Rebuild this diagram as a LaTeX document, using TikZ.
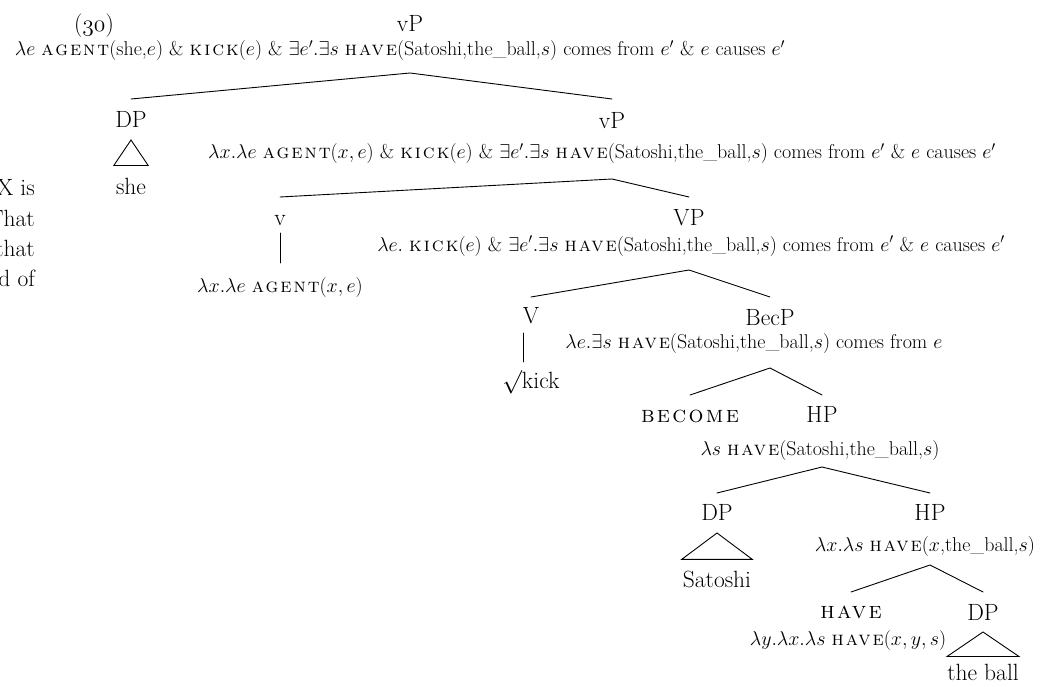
\RequirePackage{fix-cm}
\documentclass[tikz,border=0pt]{standalone}
\usepackage{fontspec}
\newfontfamily\scshp{lmromancaps10-regular.otf}[LetterSpace=10]
\usetikzlibrary{calc}
\begin{document}
\begin{tikzpicture}[x=1pt,y=-1pt,
  cat/.style={inner sep=0pt, anchor=base, font=\fontsize{23.5}{28}\selectfont},
  sem/.style={inner sep=0pt, anchor=base, font=\fontsize{20}{24}\selectfont},
  edge/.style={line width=0.9pt, line cap=round, line join=miter}]
\useasboundingbox (0,0) rectangle (1051,687);
% cut-off body text at the left
\node[cat,anchor=base east] (t1) at (35,196) {X is};
\node[cat,anchor=base east] (t2) at (35,226) {That};
\node[cat,anchor=base east] (t3) at (35,256) {that};
\node[cat,anchor=base east] (t4) at (35,286) {d of};
% tree
\node[cat] (ex) at (94,32) {(\ensuremath{\mathnormal{30}})};
\node[cat] (vp1) at (410,32) {vP};
\node[sem] (f1) at (400,56) {$\lambda e$ {\scshp agent}(she,$e$) \& {\scshp kick}($e$) \& $\exists e'.\exists s$ {\scshp have}(Satoshi,the\_ball,$s$) comes from $e'$ \& $e$ causes $e'$};
\node[cat] (dp1) at (131,128) {DP};
\node[cat] (she) at (131,194) {she};
\node[cat] (vp2) at (612,129) {vP};
\node[sem] (f2) at (602,159) {$\lambda x.\lambda e$ {\scshp agent}$(x, e)$ \& {\scshp kick}($e$) \& $\exists e'.\exists s$ {\scshp have}(Satoshi,the\_ball,$s$) comes from $e'$ \& $e$ causes $e'$};
\node[cat] (v) at (280,225) {v};
\node[sem] (fv) at (280,292) {$\lambda x.\lambda e$ {\scshp agent}$(x, e)$};
\node[cat] (VP) at (689,225) {VP};
\node[sem] (f3) at (691,251) {$\lambda e.$ {\scshp kick}($e$) \& $\exists e'.\exists s$ {\scshp have}(Satoshi,the\_ball,$s$) comes from $e'$ \& $e$ causes $e'$};
\node[cat] (V) at (531,323) {V};
\node[cat] (kick) at (531,388) {$\surd$kick};
\node[cat] (becp) at (770,325) {BecP};
\node[sem] (f4) at (754,348) {$\lambda e.\exists s$ {\scshp have}(Satoshi,the\_ball,$s$) comes from $e$};
\node[cat] (become) at (690,422) {\scshp become};
\node[cat] (hp1) at (822,422) {HP};
\node[sem] (fhp1) at (820,455) {$\lambda s$ {\scshp have}(Satoshi,the\_ball,$s$)};
\node[cat] (dp2) at (717,520) {DP};
\node[cat] (hp2) at (930,520) {HP};
\node[sem] (fhp2) at (925,551) {$\lambda x.\lambda s$ {\scshp have}($x$,the\_ball,$s$)};
\node[cat] (sat) at (717,587) {Satoshi};
\node[cat] (have) at (851,618) {\scshp have};
\node[cat] (dp3) at (983,620) {DP};
\node[sem] (fhave) at (848,645) {$\lambda y.\lambda x.\lambda s$ {\scshp have}$(x, y, s)$};
\node[cat] (ball) at (983,680) {the ball};
% branches
\draw[edge] ($(dp1.base)+(0,-29)$) -- ($(vp1 |- f1.base)+(0,17)$) -- ($(vp2.base)+(0,-30)$);
\draw[edge] ($(dp1.base)+(0,12)$) -- ($(she.north east)+(2,-12)$) -- ($(she.north west)+(-2,-12)$) -- cycle;
\draw[edge] ($(v.base)+(0,-28)$) -- ($(vp2 |- f2.base)+(0,20)$) -- ($(VP.base)+(0,-28)$);
\draw[edge] ($(v.base)+(0,8)$) -- ($(fv.base)+(0,-29)$);
\draw[edge] ($(V.base)+(0,-26)$) -- ($(VP |- f3.base)+(0,19)$) -- ($(becp.base)+(0,-28)$);
\draw[edge] ($(V.base)+(-8,10)$) -- ($(kick.base)+(-8,-26)$);
\draw[edge] ($(become.base)+(0,-27)$) -- ($(becp |- f4.base)+(0,20)$) -- ($(hp1.base)+(0,-27)$);
\draw[edge] ($(dp2.base)+(0,-27)$) -- ($(hp1 |- fhp1.base)+(0,12)$) -- ($(hp2.base)+(0,-27)$);
\draw[edge] ($(dp2.base)+(0,13)$) -- ($(sat.north east)+(1,-11)$) -- ($(sat.north west)+(-1,-11)$) -- cycle;
\draw[edge] ($(have.base)+(0,-26)$) -- ($(hp2 |- fhp2.base)+(0,14)$) -- ($(dp3.base)+(0,-28)$);
\draw[edge] ($(dp3.base)+(0,12)$) -- ($(ball.north east)+(0,-7)$) -- ($(ball.north west)+(0,-7)$) -- cycle;
\end{tikzpicture}
\end{document}
